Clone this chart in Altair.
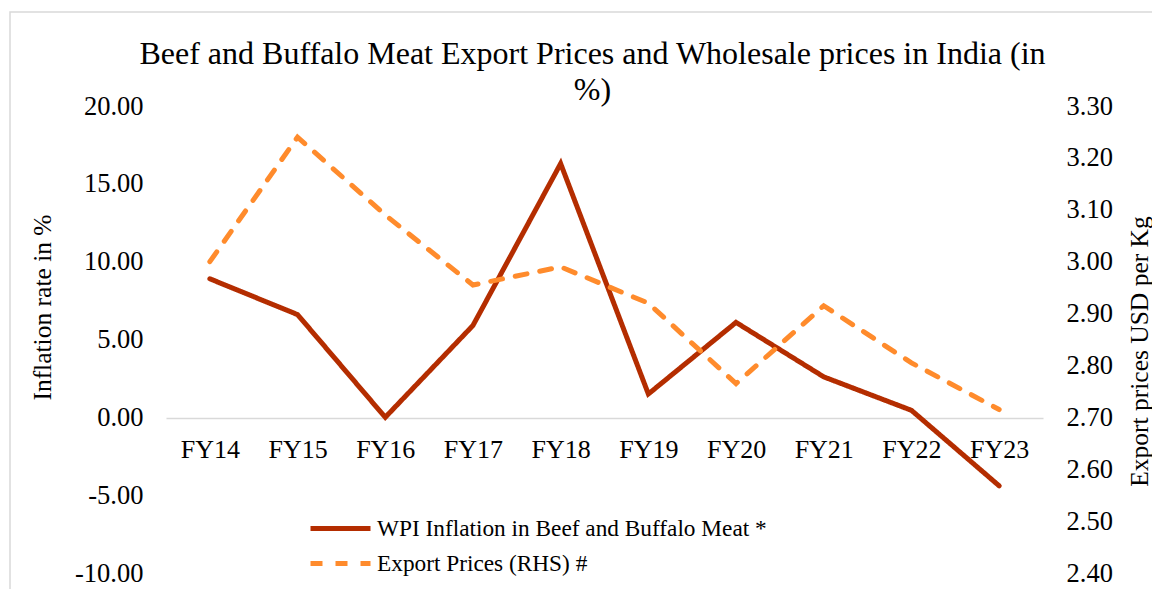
import altair as alt
import pandas as pd

categories = ["FY14", "FY15", "FY16", "FY17", "FY18", "FY19", "FY20", "FY21", "FY22", "FY23"]
wpi_inflation = [8.9, 6.6, 0.0, 5.9, 16.3, 1.5, 6.1, 2.6, 0.45, -4.4]
export_prices = [3.00, 3.24, 3.09, 2.955, 2.99, 2.92, 2.765, 2.915, 2.805, 2.715]
series_names = ["WPI Inflation in Beef and Buffalo Meat *", "Export Prices (RHS) #"]
left_ticks = [-10, -5, 0, 5, 10, 15, 20]
right_ticks = [2.4, 2.5, 2.6, 2.7, 2.8, 2.9, 3.0, 3.1, 3.2, 3.3]
title_lines = ["Beef and Buffalo Meat Export Prices and Wholesale prices in India (in", "%)"]

FONT = "Liberation Serif"
DARK = "#B42D00"
ORANGE = "#FF8B2C"

wpi_df = pd.DataFrame({"FY": categories, "value": wpi_inflation, "series": series_names[0]})
exp_df = pd.DataFrame({"FY": categories, "value": export_prices, "series": series_names[1]})
frame_df = pd.DataFrame({"a": [0]})

HYPHEN = "replace(datum.label, '\u2212', '-')"

x_enc = alt.X(
    "FY:N", sort=categories,
    scale=alt.Scale(padding=0.5),
    axis=alt.Axis(orient="bottom", offset=-155, title=None, labelAngle=0, ticks=False,
                  domainColor="#d9d9d9", domainWidth=1.5, labelPadding=18,
                  labelFontSize=26, labelFont=FONT, labelColor="black", grid=False),
)

legend_kw = dict(
    title=None, orient="none", legendX=142, legendY=405, direction="vertical",
    symbolType="M-1,0H3", symbolSize=900, symbolStrokeWidth=5,
    labelFontSize=23.3, labelFont=FONT, labelColor="black", labelLimit=700,
    labelOffset=34, rowPadding=6, padding=0,
)

color_enc = alt.Color(
    "series:N",
    scale=alt.Scale(domain=series_names, range=[DARK, ORANGE]),
    legend=alt.Legend(**legend_kw),
)
dash_enc = alt.StrokeDash(
    "series:N",
    scale=alt.Scale(domain=series_names, range=[[1, 0], [12, 13]]),
    legend=alt.Legend(**legend_kw),
)

wpi_line = alt.Chart(wpi_df).mark_line(strokeWidth=5, strokeCap="round").encode(
    x=x_enc,
    y=alt.Y("value:Q",
            scale=alt.Scale(domain=[-10, 20], nice=False, zero=False),
            axis=alt.Axis(orient="left", values=left_ticks, format=".2f", labelExpr=HYPHEN,
                          ticks=False, domain=False, grid=False, labelPadding=23,
                          labelFontSize=26.5, labelFont=FONT, labelColor="black",
                          title="Inflation rate in %", titleFont=FONT, titleFontSize=25.5,
                          titleFontWeight="normal", titleColor="black", titleAngle=270,
                          titleX=-124, titleY=201, titleBaseline="middle", titleAlign="center")),
    color=color_enc,
    strokeDash=dash_enc,
)

exp_line = alt.Chart(exp_df).mark_line(strokeWidth=5, strokeCap="round").encode(
    x=x_enc,
    y=alt.Y("value:Q",
            scale=alt.Scale(domain=[2.4, 3.3], nice=False, zero=False),
            axis=alt.Axis(orient="right", values=right_ticks, format=".2f", ticks=False,
                          domain=False, grid=False, labelPadding=23, labelFontSize=26.5,
                          labelFont=FONT, labelColor="black",
                          title="Export prices USD per Kg", titleFont=FONT, titleFontSize=25.5,
                          titleFontWeight="normal", titleColor="black", titleAngle=270,
                          titleX=96, titleY=245, titleBaseline="middle", titleAlign="center")),
    color=color_enc,
    strokeDash=dash_enc,
)

frame = alt.Chart(frame_df).mark_rect(fillOpacity=0, stroke="#d9d9d9", strokeWidth=1.5).encode(
    x=alt.value(-156), x2=alt.value(1300), y=alt.value(-94), y2=alt.value(800)
)

chart = alt.layer(frame, wpi_line, exp_line).resolve_scale(y="independent").properties(
    width=877, height=467,
    background="white",
    padding={"left": 158, "top": 98, "right": 109, "bottom": 16},
    autosize=alt.AutoSizeParams(type="none"),
    title=alt.TitleParams(text=title_lines, font=FONT, fontSize=32, fontWeight="normal",
                          color="black", anchor="middle", dx=-12, dy=100, lineHeight=36),
).configure_view(strokeWidth=0, stroke="transparent")

chart.save("out.html", embed_options={"renderer": "svg", "actions": False})
